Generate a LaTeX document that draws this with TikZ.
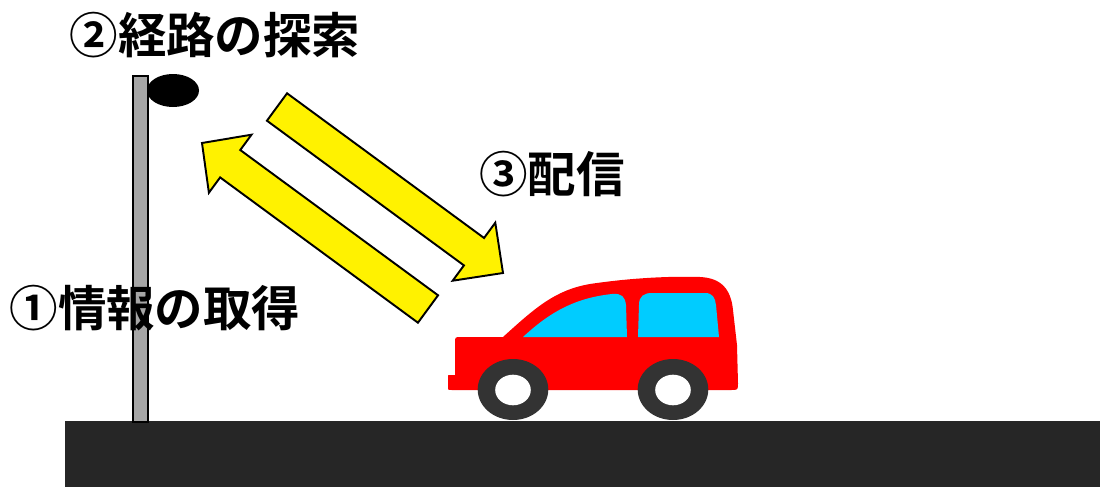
\documentclass[tikz,border=0pt]{standalone}
\usepackage{fontspec}
\usetikzlibrary{calc}
\newfontfamily\jpfont{Noto Sans CJK JP Bold}
\definecolor{groundc}{HTML}{262626}
\definecolor{polec}{HTML}{A6A6A6}
\definecolor{carred}{HTML}{FF0000}
\definecolor{glassc}{HTML}{00CCFF}
\definecolor{tyrec}{HTML}{333333}
\tikzset{
  blockarrow/.style={fill=yellow, draw=black, line width=1.1pt, line join=miter},
  caption/.style={inner sep=0pt, font=\jpfont\fontsize{27.6pt}{31pt}\selectfont},
}
\begin{document}
\begin{tikzpicture}[x=0.02cm, y=-0.02cm]
\useasboundingbox (0,0) rectangle (1100,487);

% road
\fill[groundc] (65,421) rectangle (1100,487);

% street pole with roadside unit
\draw[fill=polec, line width=1pt] (133,76) rectangle (148,422);
\fill[black] (173,90.5) ellipse [x radius=26, y radius=16.5];

% uplink arrow (car -> roadside unit)
\coordinate (u0) at (428,309);
\coordinate (u1) at (202,143);
\coordinate (uh) at ($(u1)!0.7cm!(u0)$);
\draw[blockarrow]
  ($(u0)!0.34cm!90:(u1)$) -- ($(uh)!0.34cm!90:(u1)$) -- ($(uh)!0.72cm!90:(u1)$)
  -- (u1)
  -- ($(uh)!0.72cm!-90:(u1)$) -- ($(uh)!0.34cm!-90:(u1)$) -- ($(u0)!0.34cm!-90:(u1)$)
  -- cycle;

% downlink arrow (roadside unit -> car)
\coordinate (d0) at (277,107);
\coordinate (d1) at (503,273);
\coordinate (dh) at ($(d1)!0.72cm!(d0)$);
\draw[blockarrow]
  ($(d0)!0.34cm!90:(d1)$) -- ($(dh)!0.34cm!90:(d1)$) -- ($(dh)!0.72cm!90:(d1)$)
  -- (d1)
  -- ($(dh)!0.72cm!-90:(d1)$) -- ($(dh)!0.34cm!-90:(d1)$) -- ($(d0)!0.34cm!-90:(d1)$)
  -- cycle;

% car body
\fill[carred] (448,388) -- (448,377) .. controls (448,375) .. (450,375) -- (455,375)
  -- (455,343) .. controls (455,337) .. (461,337) -- (503,337)
  .. controls (535,308) and (555,290) .. (590,284)
  .. controls (630,278) and (670,276) .. (700,277)
  .. controls (722,278) and (731,290) .. (733,310)
  -- (737,345) -- (738,383) .. controls (738,390) .. (731,390)
  -- (452,390) .. controls (448,390) .. (448,388) -- cycle;

% windows
\fill[glassc] (523,337) .. controls (550,312) and (575,298) .. (612,294)
  .. controls (622,293) and (625,297) .. (626,305) -- (627,337) -- cycle;
\fill[glassc] (638,337) -- (639,305) .. controls (639,296) and (644,293) .. (652,293)
  -- (705,293) .. controls (713,293) and (715,298) .. (716,305) -- (719,337) -- cycle;

% wheels
\fill[tyrec] (513,389.5) ellipse [x radius=35.3, y radius=30.5];
\fill[white] (513,390) ellipse [x radius=17.8, y radius=15.3];
\fill[tyrec] (673,389.5) ellipse [x radius=35.3, y radius=30.5];
\fill[white] (673,390) ellipse [x radius=17.8, y radius=15.3];

% step captions
\node[caption] (search) at (215,35) {②経路の探索};
\node[caption] (deliver) at (552,174) {③配信};
\node[caption] (collect) at (155,308) {①情報の取得};
\end{tikzpicture}
\end{document}
